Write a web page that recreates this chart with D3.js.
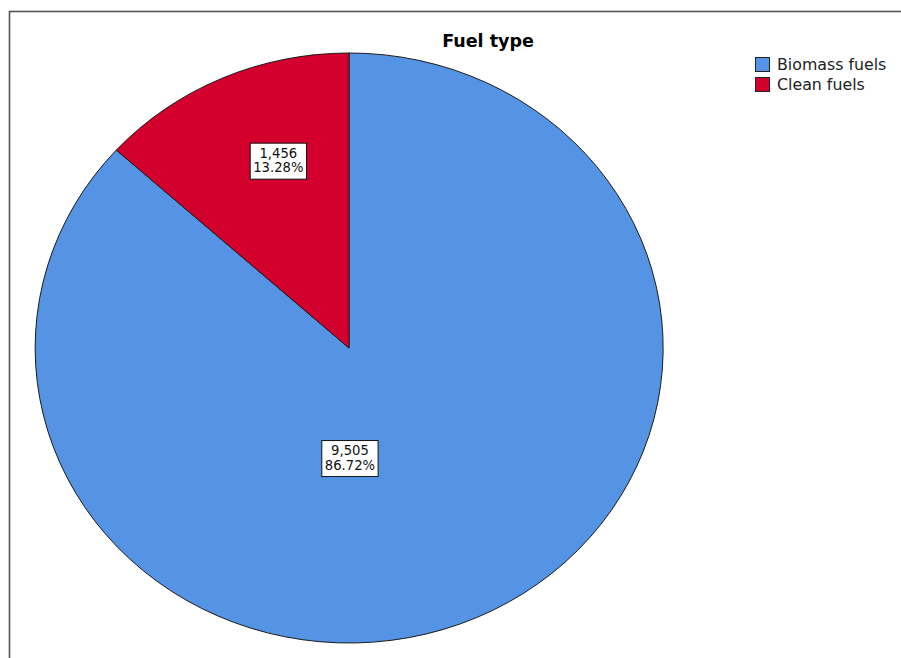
<!DOCTYPE html>
<html>
<head>
<meta charset="utf-8">
<script src="https://cdn.jsdelivr.net/npm/d3@7"></script>
<style>
  body { margin: 0; background: #fff; }
  svg { display: block; font-family: "DejaVu Sans", "Liberation Sans", Arial, sans-serif; }
</style>
</head>
<body>
<svg id="chart"></svg>
<script>
const categories = ['Biomass fuels', 'Clean fuels'];
const counts = [9505, 1456];
const percents = ['86.72%', '13.28%'];
const colors = ['#5594e5', '#d3002e'];

const width = 901;
const height = 658;
const cx = 349, cy = 348;
const rx = 314, ry = 295;

// Label anchors as fractions of the radius (SPSS places them its own way).
const labelAt = [[0.003, 0.373], [-0.225, -0.635]];

const svg = d3.select('#chart').attr('width', width).attr('height', height);

// Frame, cut off at the right and bottom.
svg.append('rect')
    .attr('x', 9.5).attr('y', 11.5)
    .attr('width', 1000).attr('height', 1000)
    .attr('fill', 'none').attr('stroke', '#555').attr('stroke-width', 1.6);

svg.append('text')
    .attr('x', 488).attr('y', 47)
    .attr('text-anchor', 'middle')
    .attr('font-size', 17.5).attr('font-weight', 'bold')
    .text('Fuel type');

const pie = d3.pie().sort(null).value(d => d);
const arcs = pie(counts);
const arc = d3.arc().innerRadius(0).outerRadius(1);

const g = svg.append('g')
    .attr('transform', `translate(${cx},${cy}) scale(${rx},${ry})`);

g.selectAll('path').data(arcs).join('path')
    .attr('d', arc)
    .attr('fill', (d, i) => colors[i])
    .attr('stroke', '#1a1a1a')
    .attr('stroke-width', 1)
    .attr('vector-effect', 'non-scaling-stroke');

// Value labels.
const labels = svg.append('g').selectAll('g').data(arcs).join('g')
    .attr('transform', (d, i) =>
        `translate(${cx + labelAt[i][0] * rx},${cy + labelAt[i][1] * ry})`);

labels.each(function(d, i) {
  const lg = d3.select(this);
  const box = lg.append('rect');
  const t = lg.append('text')
      .attr('text-anchor', 'middle')
      .attr('font-size', 13.2)
      .attr('fill', '#111');
  t.append('tspan').attr('x', 0).attr('y', -3)
      .text(d3.format(',')(counts[i]));
  t.append('tspan').attr('x', 0).attr('y', 11.5).text(percents[i]);
  const bb = t.node().getBBox();
  box.attr('x', bb.x - 3).attr('y', -17.5)
      .attr('width', bb.width + 6).attr('height', 36)
      .attr('fill', '#fff').attr('stroke', '#111').attr('stroke-width', 1);
});

// Legend.
const legend = svg.append('g').attr('transform', 'translate(755,57)');
const item = legend.selectAll('g').data(categories).join('g')
    .attr('transform', (d, i) => `translate(0,${i * 20})`);
item.append('rect')
    .attr('x', 0.5).attr('y', 0.5)
    .attr('width', 14).attr('height', 14)
    .attr('fill', (d, i) => colors[i])
    .attr('stroke', '#222').attr('stroke-width', 1);
item.append('text')
    .attr('x', 22).attr('y', 13)
    .attr('font-size', 15.8).attr('fill', '#222')
    .text(d => d);
</script>
</body>
</html>
